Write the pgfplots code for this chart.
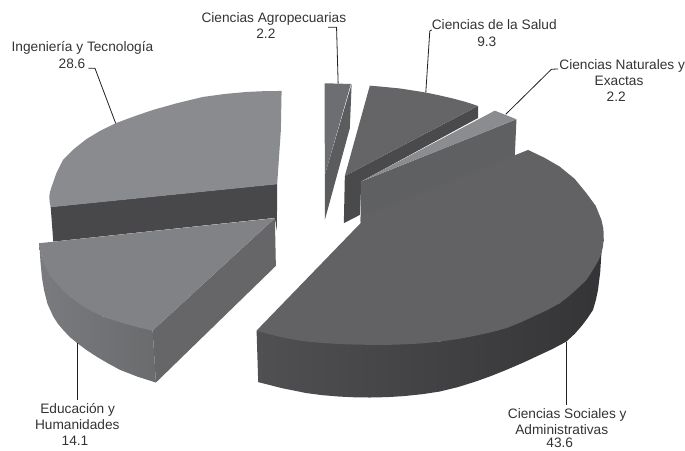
\documentclass[border=0pt]{standalone}
\usepackage{pgfplots}
\pgfplotsset{compat=1.18}
\usepackage{fontspec}
\setmainfont{Liberation Sans}
\definecolor{inglight}{HTML}{8A8B8E}
\definecolor{ingdark}{HTML}{48484A}
\definecolor{edutop}{HTML}{818285}
\definecolor{eduside}{HTML}{666668}
\definecolor{eduleft}{HTML}{7A7B7E}
\definecolor{eduright}{HTML}{6A6B6D}
\definecolor{agrotop}{HTML}{6D6E71}
\definecolor{agroside}{HTML}{5B5C5E}
\definecolor{saltop}{HTML}{656567}
\definecolor{saldark}{HTML}{4A4A4C}
\definecolor{nattop}{HTML}{8A8C8F}
\definecolor{natside}{HTML}{5F6062}
\definecolor{soctop}{HTML}{626264}
\definecolor{socleft}{HTML}{505052}
\definecolor{socmid}{HTML}{3C3C3E}
\definecolor{socright}{HTML}{343436}
\definecolor{leader}{HTML}{231F20}
\begin{document}
\begin{tikzpicture}
\begin{axis}[
  scale only axis,
  width=685bp, height=451bp,
  xmin=0, xmax=685, ymin=0, ymax=451,
  y dir=reverse,
  hide axis,
  clip=false,
  every axis plot/.append style={line join=round},
  nodes={font=\fontsize{13.7bp}{16bp}\selectfont, text=black!80, inner sep=0pt, anchor=base},
]
% keeps the page as large as the reference
\addplot[draw=none] coordinates {(0,0)(685,451)};
% Ciencias Agropecuarias
\addplot[draw=none, fill=agrotop] coordinates {(324.7,83.3)(351,84)(325,175)};
\addplot[draw=none, fill=agroside] coordinates {(351.8,84)(350,128.3)(325,220)(325,175)};
% Ingenieria y Tecnologia
\addplot[draw=none, fill=ingdark] coordinates {(50.7,207)(277.3,184)(277,230.7)(275,218)(53.3,241.7)};
\addplot[draw=none, fill=inglight] coordinates {(281.7,91)(264,91.2)(246.7,92)(225,94)(203,97)(178,103)(153,110)(134,116.5)(115.7,123.3)(100,131)(86.7,139)(74,149)(63,160)(56.5,173)(51.7,186.7)(50,192)(49.3,196.7)(49.7,202)(50.7,207.3)(277.3,184.3)(281,130)};
% Ciencias de la Salud
\addplot[draw=none, fill=saldark] coordinates {(345,176)(478.3,106)(478.3,118)(361.5,181.5)(360,215)(344,223.3)};
\addplot[draw=none, fill=saltop] coordinates {(370,85.7)(385,87)(400,88.5)(413,90.5)(426.7,92.7)(440,95.5)(453,98.5)(466,102)(478.3,106)(345,176)};
% Ciencias Naturales y Exactas
\addplot[draw=none, fill=natside] coordinates {(361,181.7)(516.7,119.3)(515,156.7)(360.7,222)};
\addplot[draw=none, fill=nattop] coordinates {(495,110.7)(516.7,119.3)(361,181.7)};
% Ciencias Sociales y Administrativas
\addplot[draw=none, left color=socleft, middle color=socmid, right color=socright] coordinates {(256.7,330.7)(258.3,382.3)(282,388.3)(306.7,393.3)(323,395.4)(340,396.8)(355,397.5)(370,397.7)(388,397.3)(405,396.2)(423,394.3)(440,391.7)(458,387.3)(475,382)(491,376.3)(506.7,370)(523,363)(538,356)(553,349)(566.7,341.7)(575,334)(582,326)(588,318)(593.3,310)(596.2,300)(598.3,290)(600.5,272)(601.7,253.3)(604,238.3)(560,303.3)(440,341.7)};
\addplot[draw=none, fill=soctop] coordinates {(528.3,150)(545,158)(560,166.7)(575,179)(586.7,193.3)(596,206)(601.7,220)(603.7,229)(604,238.3)(603.3,246)(601.7,253.3)(598.8,260.5)(595,267)(591,273.6)(586.7,280)(580.6,286)(574,292)(567.3,297.8)(560,303.3)(548,310)(535,316)(521,322.5)(506.7,328.3)(491,332.5)(475,336)(458,339.2)(440,341.7)(423,343.5)(405,344.5)(389,345)(373.3,345)(356,344.8)(340,344.2)(323,343.2)(306.7,341.7)(293,339.6)(280,337)(268,334)(256.7,330.7)(360.7,223.3)(360.7,217)};
% Educacion y Humanidades
\addplot[draw=none, left color=eduleft, right color=eduright] coordinates {(39.3,243.3)(40.5,262)(42,278)(44,290)(47.5,304)(53.3,316.7)(58,324)(64,331)(70,337.3)(77.3,343.3)(87,350.5)(97,357)(108,363.5)(120,370)(138,377)(156,382.7)(152.7,330.7)(103.3,316.7)(70,296.7)(50,275)(41.7,256.7)};
\addplot[draw=none, fill=eduside] coordinates {(152.7,330.7)(275,218.3)(276,266)(156,382.7)};
\addplot[draw=none, fill=edutop] coordinates {(39.3,243.3)(275,218.3)(152.7,330.7)(139.5,327.8)(127,324.5)(115,320.8)(103.3,316.7)(94,312.5)(85,307.5)(77,302.3)(70,296.7)(63.5,291)(58,285)(53.5,280)(50,275)(47,270.5)(45,266)(43,261)(41.7,256.7)(40,250)};
% leader lines
\addplot[leader, line width=0.8pt] coordinates {(328.3,27.3)(336.7,27.3)(338.3,83.3)};
\addplot[leader, line width=0.8pt] coordinates {(432,30)(430,31)(426,92.5)};
\addplot[leader, line width=0.8pt] coordinates {(558.3,69)(551.7,69.3)(506,114.3)};
\addplot[leader, line width=0.8pt] coordinates {(88.3,68.3)(95,68.3)(115.7,123.3)};
\addplot[leader, line width=0.8pt] coordinates {(77.3,343.3)(77.3,400)};
\addplot[leader, line width=0.8pt] coordinates {(566.7,341.7)(566.7,405)};
% labels
\node at (axis cs:274,22.7) {Ciencias Agropecuarias};
\node at (axis cs:266,38.7) {2.2};
\node at (axis cs:494.5,30) {Ciencias de la Salud};
\node at (axis cs:487,46.7) {9.3};
\node at (axis cs:622.5,69.3) {Ciencias Naturales y};
\node at (axis cs:619.3,85.7) {Exactas};
\node at (axis cs:616.5,101.7) {2.2};
\node at (axis cs:82.5,51.7) {Ingeniería y Tecnología};
\node at (axis cs:72,68.3) {28.6};
\node at (axis cs:77.7,413.3) {Educación y};
\node at (axis cs:77.3,429.3) {Humanidades};
\node at (axis cs:75,446) {14.1};
\node at (axis cs:567.5,418.3) {Ciencias Sociales y};
\node at (axis cs:562,434.5) {Administrativas};
\node at (axis cs:560,448) {43.6};
\end{axis}
\end{tikzpicture}
\end{document}
